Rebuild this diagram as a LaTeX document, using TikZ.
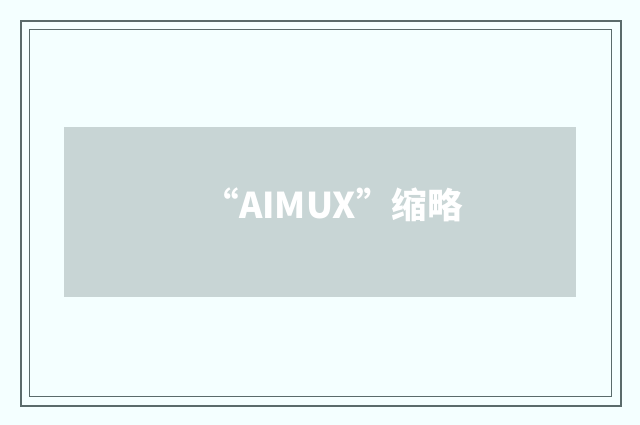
\documentclass[tikz,border=0pt]{standalone}
\usepackage{fontspec}
\newfontfamily\cjk{Noto Sans CJK SC}
\usepackage{xcolor}
\usetikzlibrary{positioning}
\definecolor{pagebg}{HTML}{F4FFFF}
\definecolor{frameline}{HTML}{5A6B6B}
\definecolor{bannerbg}{HTML}{C8D5D5}
\tikzset{%
    % Specifications for style of nodes:
    frame/.style = {draw=frameline},
    banner/.style = {
        rectangle, fill=bannerbg, draw=none,
        minimum width=512pt, minimum height=170pt,
        inner sep=0pt
    },
    title/.style = {
        text=white, font=\cjk\bfseries\fontsize{35.5}{35.5}\selectfont,
        inner sep=0pt
    }
}

\begin{document}
\begin{tikzpicture}[x=1pt, y=-1pt]
    \fill[pagebg] (0,0) rectangle (640,425);
    \useasboundingbox (0,0) rectangle (640,425);
    \draw[frame, line width=2pt] (21,21) rectangle (621,406);
    \draw[frame, line width=1pt] (29.5,29.5) rectangle (611,396);
    \node[banner] (B) at (320,212) {};
    \node[title] (T) at (333,205) {“AIMUX”缩略};
\end{tikzpicture}
\end{document}
